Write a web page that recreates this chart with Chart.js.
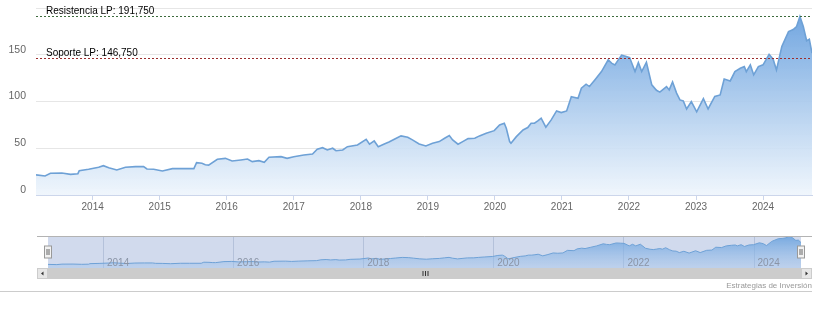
<!DOCTYPE html>
<html><head><meta charset="utf-8">
<script src="https://cdn.jsdelivr.net/npm/chart.js@4.4.1/dist/chart.umd.min.js"></script>
<style>
html,body{margin:0;padding:0;background:#fff;}
#wrap{position:relative;width:828px;height:309px;overflow:hidden;background:#fff;}
#main{position:absolute;left:0;top:0;}
#nav{position:absolute;left:0;top:228px;}
</style></head><body>
<div id="wrap">
<canvas id="main" width="828" height="228"></canvas>
<canvas id="nav" width="828" height="81"></canvas>
</div>
<script>
// ---- data (decimal years / price) ----
const dates = [2013.155,2013.29,2013.37,2013.54,2013.67,2013.78,2013.80,2013.94,2014.09,2014.16,2014.24,2014.36,2014.49,2014.64,2014.76,2014.81,2014.91,2015.04,2015.19,2015.33,2015.51,2015.55,2015.63,2015.68,2015.73,2015.86,2015.98,2016.08,2016.21,2016.31,2016.38,2016.48,2016.56,2016.63,2016.81,2016.90,2017.00,2017.15,2017.28,2017.35,2017.43,2017.50,2017.58,2017.63,2017.73,2017.80,2017.95,2018.08,2018.13,2018.20,2018.26,2018.35,2018.42,2018.50,2018.60,2018.70,2018.77,2018.87,2018.97,2019.07,2019.17,2019.25,2019.32,2019.37,2019.45,2019.52,2019.60,2019.70,2019.77,2019.87,2019.99,2020.07,2020.14,2020.17,2020.22,2020.24,2020.32,2020.42,2020.49,2020.54,2020.59,2020.64,2020.69,2020.76,2020.84,2020.92,2020.99,2021.07,2021.14,2021.24,2021.29,2021.36,2021.41,2021.49,2021.59,2021.69,2021.74,2021.79,2021.84,2021.89,2021.96,2022.01,2022.09,2022.14,2022.19,2022.26,2022.34,2022.41,2022.46,2022.51,2022.56,2022.60,2022.65,2022.71,2022.76,2022.81,2022.86,2022.93,2023.01,2023.11,2023.18,2023.28,2023.36,2023.42,2023.51,2023.58,2023.66,2023.72,2023.75,2023.81,2023.86,2023.93,2024.00,2024.09,2024.15,2024.20,2024.28,2024.38,2024.45,2024.50,2024.55,2024.60,2024.65,2024.69,2024.73];
const prices = [21.5,20.3,23.2,23.5,22.1,22.8,26.0,27.5,29.6,31.4,29.2,26.8,29.6,30.3,30.3,27.8,27.5,25.7,28.2,28.2,28.2,34.6,33.9,32.4,32.0,38.2,39.2,36.4,37.5,38.5,35.7,36.7,35.0,40.3,41.0,39.2,41.0,42.8,43.9,48.9,50.6,48.2,50.0,47.4,48.2,51.7,53.5,59.6,54.3,57.8,51.7,54.6,56.7,59.6,63.2,61.8,58.9,54.6,52.5,55.3,57.1,60.7,63.5,58.9,54.3,57.1,60.3,60.7,63.2,66.0,68.8,74.9,76.8,71.4,57.1,55.3,62.4,69.6,72.1,76.8,76.8,79.2,82.1,72.5,80.3,89.9,88.1,89.9,105.2,103.5,114.2,118.5,116.0,123.1,132.0,144.5,141.0,139.2,144.5,149.5,148.1,147.0,132.0,141.6,132.0,142.0,117.8,112.0,110.0,113.0,116.0,112.4,121.0,109.0,101.7,100.6,92.0,99.9,89.0,103.0,92.0,105.5,107.0,124.0,122.0,132.0,135.6,137.4,132.0,139.2,128.5,137.4,139.2,150.5,145.3,133.8,158.8,174.8,177.0,180.2,191.0,180.2,165.0,166.5,151.7];
const yearTicks = [2014,2015,2016,2017,2018,2019,2020,2021,2022,2023,2024];
const valueTicks = [0,50,100,150,200];
const navYearTicks = [2014,2016,2018,2020,2022,2024];
const levelNames = ['Resistencia LP','Soporte LP'];
const levelValues = [191.75,146.75];
const levelLabels = ['191,750','146,750'];
const creditText = 'Estrategias de Inversión';

// ---- styles ----
const levelColors = ['#3d6b3d','#9b2d2d'];
const lineColor = '#6ea1d6';
const FONT = '"Liberation Sans", Arial, sans-serif';

const points = dates.map((d,i)=>({x:d, y:prices[i]}));

function areaGradient(top, bottom){
  return (ctx)=>{
    const ch = ctx.chart, a = ch.chartArea;
    if(!a) return 'rgba(0,0,0,0)';
    const g = ch.ctx.createLinearGradient(0, a.top, 0, a.bottom);
    g.addColorStop(0, top);
    g.addColorStop(1, bottom);
    return g;
  };
}

const levelPlugin = {
  id:'levels',
  afterDatasetsDraw(chart){
    const {ctx, chartArea:a, scales:{y}} = chart;
    ctx.save();
    levelValues.forEach((v,i)=>{
      const py = Math.round(y.getPixelForValue(v)) + 0.5;
      ctx.strokeStyle = levelColors[i];
      ctx.lineWidth = 1;
      ctx.setLineDash([2,2]);
      ctx.beginPath(); ctx.moveTo(a.left, py); ctx.lineTo(a.right, py); ctx.stroke();
      ctx.setLineDash([]);
      ctx.fillStyle = '#000';
      ctx.font = '10px ' + FONT;
      ctx.textBaseline = 'alphabetic';
      ctx.textAlign = 'left';
      ctx.fillText(levelNames[i] + ': ' + levelLabels[i], a.left + 10, py - 2.5);
    });
    ctx.restore();
  }
};

function noPad(s){ s.paddingTop = 0; s.paddingBottom = 0; s.paddingLeft = 0; s.paddingRight = 0; }

new Chart(document.getElementById('main'), {
  type:'line',
  data:{datasets:[{
    data: points,
    borderColor: lineColor,
    borderWidth: 1.6,
    pointRadius: 0,
    tension: 0,
    fill: 'origin',
    backgroundColor: areaGradient('rgba(104,160,222,0.97)','rgba(238,245,252,0.9)')
  }]},
  options:{
    responsive:false, animation:false,
    layout:{padding:{left:0,right:16,top:8,bottom:0}},
    plugins:{legend:{display:false}, tooltip:{enabled:false}},
    scales:{
      x:{
        type:'linear', min: dates[0], max: dates[dates.length-1],
        afterBuildTicks: s => { s.ticks = yearTicks.map(v=>({value:v})); },
        afterFit: s => { s.height = 33; noPad(s); },
        grid:{drawOnChartArea:false, drawTicks:true, tickLength:5, color:'#ccd6eb'},
        border:{color:'#ccd6eb'},
        ticks:{callback: v => String(v), color:'#666', font:{family:FONT,size:10}, padding:1, maxRotation:0, autoSkip:false}
      },
      y:{
        min:0, max:200,
        afterBuildTicks: s => { s.ticks = valueTicks.map(v=>({value:v})); },
        afterFit: s => { s.width = 36; noPad(s); },
        grid:{color:'#e6e6e6', drawTicks:false},
        border:{display:false},
        ticks:{callback: v => (v===200 ? '' : String(v)), color:'#666', font:{family:FONT,size:10.5}, padding:10, labelOffset:-5}
      }
    }
  },
  plugins:[levelPlugin]
});

// ---- navigator ----
const navPlugin = {
  id:'navUI',
  beforeDatasetsDraw(chart){
    const {ctx, chartArea:a, scales:{x}} = chart;
    ctx.save();
    ctx.fillStyle = 'rgba(102,133,194,0.3)';
    ctx.fillRect(a.left, a.top, a.right - a.left, a.bottom - a.top);
    ctx.strokeStyle = 'rgba(160,175,205,0.6)';
    ctx.lineWidth = 1;
    navYearTicks.forEach(t=>{
      const px = Math.round(x.getPixelForValue(t)) + 0.5;
      ctx.beginPath(); ctx.moveTo(px, a.top); ctx.lineTo(px, a.bottom); ctx.stroke();
    });
    ctx.restore();
  },
  afterDatasetsDraw(chart){
    const {ctx, chartArea:a, scales:{x}} = chart;
    ctx.save();
    ctx.fillStyle = '#8a94a6';
    ctx.font = '10px ' + FONT;
    ctx.textAlign = 'left';
    ctx.textBaseline = 'alphabetic';
    navYearTicks.forEach(t=>{
      const px = x.getPixelForValue(t);
      ctx.fillText(String(t), px + 4, a.bottom - 2.5);
    });
    const L = a.left - 11, R = a.right + 11;
    ctx.strokeStyle = '#b3b3b3';
    ctx.beginPath(); ctx.moveTo(L, a.top + 0.5); ctx.lineTo(R, a.top + 0.5); ctx.stroke();
    const sy = a.bottom, sh = 11;
    ctx.fillStyle = '#cccccc';
    ctx.fillRect(L, sy, R - L, sh);
    ctx.fillStyle = '#e6e6e6';
    ctx.fillRect(L, sy, 11, sh);
    ctx.fillRect(R - 11, sy, 11, sh);
    ctx.strokeStyle = '#cccccc';
    ctx.strokeRect(L + 0.5, sy + 0.5, 10, sh - 1);
    ctx.strokeRect(R - 10.5, sy + 0.5, 10, sh - 1);
    ctx.fillStyle = '#333';
    const cy = sy + sh/2;
    ctx.beginPath(); ctx.moveTo(L + 4, cy); ctx.lineTo(L + 6.5, cy - 2); ctx.lineTo(L + 6.5, cy + 2); ctx.closePath(); ctx.fill();
    ctx.beginPath(); ctx.moveTo(R - 4, cy); ctx.lineTo(R - 6.5, cy - 2); ctx.lineTo(R - 6.5, cy + 2); ctx.closePath(); ctx.fill();
    const mx = Math.round((a.left + a.right)/2);
    ctx.strokeStyle = '#333';
    [-2.5, 0, 2.5].forEach(d=>{
      ctx.beginPath(); ctx.moveTo(mx + d + 0.5, cy - 2.5); ctx.lineTo(mx + d + 0.5, cy + 2.5); ctx.stroke();
    });
    const hm = (a.top + a.bottom)/2;
    [a.left, a.right].forEach(hx=>{
      const x0 = Math.round(hx) - 3.5;
      ctx.fillStyle = '#f2f2f2';
      ctx.strokeStyle = '#999';
      ctx.fillRect(x0, hm - 6, 7, 12);
      ctx.strokeRect(x0, hm - 6, 7, 12);
      ctx.strokeStyle = '#666';
      ctx.beginPath();
      ctx.moveTo(x0 + 2.5, hm - 3); ctx.lineTo(x0 + 2.5, hm + 3);
      ctx.moveTo(x0 + 4.5, hm - 3); ctx.lineTo(x0 + 4.5, hm + 3);
      ctx.stroke();
    });
    ctx.strokeStyle = '#cccccc';
    ctx.beginPath(); ctx.moveTo(0, 63.5); ctx.lineTo(R, 63.5); ctx.stroke();
    ctx.fillStyle = '#999';
    ctx.font = '8px ' + FONT;
    ctx.textAlign = 'right';
    ctx.fillText(creditText, R, 60);
    ctx.restore();
  }
};

new Chart(document.getElementById('nav'), {
  type:'line',
  data:{datasets:[{
    data: points,
    borderColor: lineColor,
    borderWidth: 1,
    pointRadius: 0,
    tension: 0,
    fill: 'origin',
    backgroundColor: areaGradient('rgba(108,163,222,0.9)','rgba(160,195,235,0.4)')
  }]},
  options:{
    responsive:false, animation:false,
    layout:{padding:{left:48,right:27,top:8,bottom:41}},
    plugins:{legend:{display:false}, tooltip:{enabled:false}},
    scales:{
      x:{type:'linear', display:false, min: dates[0], max: dates[dates.length-1]},
      y:{display:false, min:0, max: Math.max(...prices)}
    }
  },
  plugins:[navPlugin]
});
</script>
</body></html>
